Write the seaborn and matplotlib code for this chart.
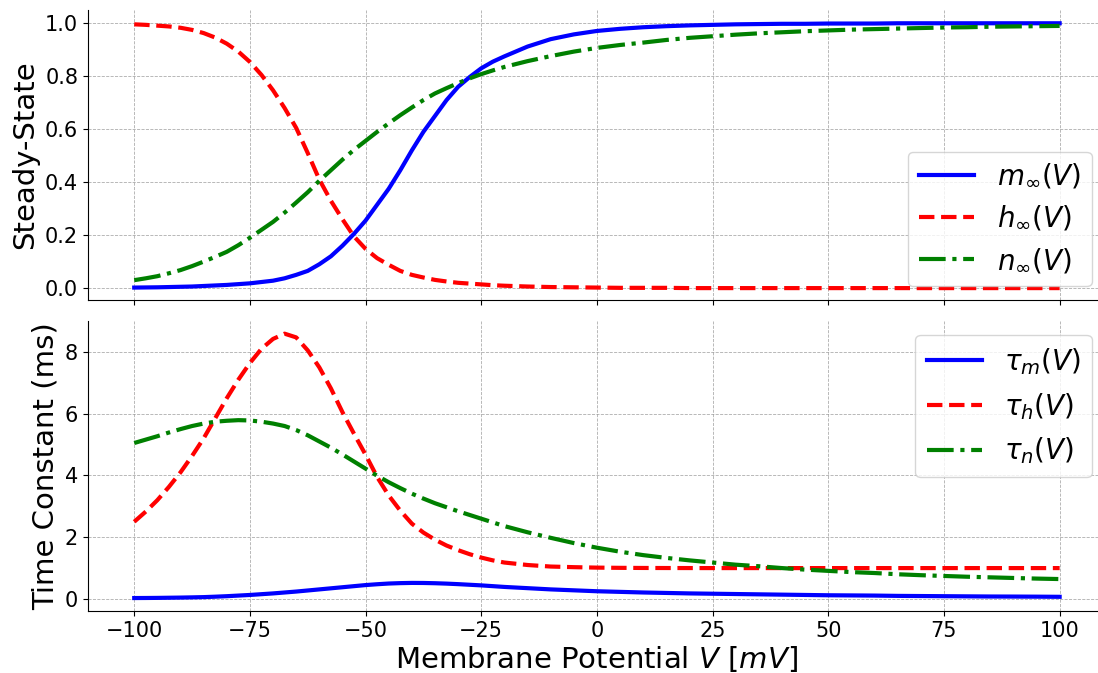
import matplotlib
matplotlib.use("Agg")
import matplotlib.pyplot as plt
import seaborn as sns

V = [-100, -97.5, -95, -92.5, -90, -87.5, -85, -82.5, -80, -77.5, -75, -72.5, -70, -67.5,
     -65, -62.5, -60, -57.5, -55, -52.5, -50, -47.5, -45, -42.5, -40, -37.5, -35, -32.5,
     -30, -27.5, -25, -22.5, -20,
     -15, -10, -5, 0, 5, 10, 15, 20, 25, 30, 35, 40, 45, 50, 55, 60, 65, 70, 75, 80, 85,
     90, 95, 100]

m_inf = [0.002, 0.0025, 0.003, 0.004, 0.005, 0.006, 0.008, 0.01, 0.012, 0.015, 0.018, 0.023,
         0.028, 0.037, 0.05, 0.065, 0.09, 0.12, 0.16, 0.205, 0.255, 0.315, 0.375, 0.445, 0.52,
         0.59, 0.65, 0.71, 0.76, 0.797, 0.83, 0.855, 0.875,
         0.912, 0.94, 0.958, 0.971, 0.979, 0.985, 0.989, 0.992, 0.994, 0.996, 0.997, 0.998,
         0.998, 0.999, 0.999, 0.999, 1.0, 1.0, 1.0, 1.0, 1.0, 1.0, 1.0, 1.0]
h_inf = [0.996, 0.994, 0.991, 0.988, 0.983, 0.975, 0.963, 0.946, 0.923, 0.893, 0.854, 0.805,
         0.747, 0.68, 0.605, 0.51, 0.41, 0.33, 0.26, 0.195, 0.148, 0.113, 0.088, 0.065, 0.05,
         0.04, 0.031, 0.025, 0.02, 0.017, 0.014, 0.011, 0.009,
         0.006, 0.004, 0.003, 0.002, 0.001, 0.001, 0.001, 0.0, 0.0, 0.0, 0.0, 0.0, 0.0, 0.0,
         0.0, 0.0, 0.0, 0.0, 0.0, 0.0, 0.0, 0.0, 0.0, 0.0]
n_inf = [0.03, 0.037, 0.045, 0.056, 0.068, 0.083, 0.10, 0.118, 0.137, 0.162, 0.19, 0.22,
         0.25, 0.285, 0.323, 0.362, 0.405, 0.445, 0.485, 0.522, 0.556, 0.59, 0.622, 0.653,
         0.682, 0.71, 0.735, 0.755, 0.774, 0.792, 0.808, 0.822, 0.835,
         0.857, 0.876, 0.893, 0.907, 0.918, 0.927, 0.937, 0.945, 0.951, 0.957, 0.962, 0.966,
         0.970, 0.973, 0.976, 0.978, 0.980, 0.982, 0.984, 0.985, 0.987, 0.988, 0.989, 0.990]

tau_m = [0.03, 0.032, 0.035, 0.04, 0.045, 0.052, 0.06, 0.074, 0.09, 0.11, 0.13, 0.155, 0.18,
         0.21, 0.24, 0.275, 0.31, 0.345, 0.38, 0.415, 0.45, 0.477, 0.50, 0.513, 0.52, 0.518,
         0.51, 0.497, 0.48, 0.46, 0.44, 0.415, 0.39,
         0.35, 0.31, 0.28, 0.25, 0.23, 0.21, 0.195, 0.18, 0.17, 0.16, 0.15, 0.14, 0.13, 0.12,
         0.115, 0.11, 0.10, 0.095, 0.09, 0.085, 0.08, 0.078, 0.075, 0.07]
tau_h = [2.5, 2.83, 3.2, 3.63, 4.1, 4.63, 5.2, 5.85, 6.5, 7.1, 7.64, 8.1, 8.42, 8.59, 8.47,
         8.05, 7.5, 6.82, 6.05, 5.35, 4.67, 3.95, 3.35, 2.86, 2.44, 2.15, 1.92, 1.73, 1.58,
         1.45, 1.34, 1.25, 1.18,
         1.10, 1.05, 1.03, 1.015, 1.008, 1.004, 1.002, 1.001, 1.0, 1.0, 1.0, 1.0, 1.0, 1.0,
         1.0, 1.0, 1.0, 1.0, 1.0, 1.0, 1.0, 1.0, 1.0, 1.0]
tau_n = [5.05, 5.16, 5.27, 5.39, 5.5, 5.6, 5.68, 5.74, 5.77, 5.79, 5.78, 5.74, 5.68, 5.6,
         5.47, 5.3, 5.1, 4.9, 4.68, 4.45, 4.22, 3.99, 3.78, 3.59, 3.41, 3.25, 3.1, 2.97,
         2.84, 2.72, 2.6, 2.48, 2.36,
         2.16, 1.98, 1.81, 1.66, 1.53, 1.42, 1.33, 1.25, 1.18, 1.11, 1.06, 1.0, 0.95, 0.91,
         0.87, 0.84, 0.80, 0.77, 0.745, 0.72, 0.70, 0.68, 0.66, 0.645]

top_labels = [r'$m_\infty(V)$', r'$h_\infty(V)$', r'$n_\infty(V)$']
bot_labels = [r'$\tau_m(V)$', r'$\tau_h(V)$', r'$\tau_n(V)$']
colors = ['blue', 'red', 'green']
styles = ['-', '--', '-.']
x_ticks = [-100, -75, -50, -25, 0, 25, 50, 75, 100]
top_yticks = [0.0, 0.2, 0.4, 0.6, 0.8, 1.0]
bot_yticks = [0, 2, 4, 6, 8]

plt.rcParams['font.family'] = ['DejaVu Sans']

fig = plt.figure(figsize=(10.98, 6.73), dpi=100)
ax1 = fig.add_axes([0.0801, 0.5542, 0.9271, 0.4309])
ax2 = fig.add_axes([0.0801, 0.0921, 0.9271, 0.4309], sharex=ax1)

for ys, lab, c, ls in zip([m_inf, h_inf, n_inf], top_labels, colors, styles):
    sns.lineplot(x=V, y=ys, ax=ax1, color=c, linestyle=ls, linewidth=3, label=lab)
for ys, lab, c, ls in zip([tau_m, tau_h, tau_n], bot_labels, colors, styles):
    sns.lineplot(x=V, y=ys, ax=ax2, color=c, linestyle=ls, linewidth=3, label=lab)

ax1.set_xlim(-110, 110)
ax1.set_ylim(-0.045, 1.05)
ax2.set_ylim(-0.39, 9.0)
ax1.set_yticks(top_yticks)
ax2.set_yticks(bot_yticks)
ax2.set_xticks(x_ticks)
ax1.tick_params(labelbottom=False)

for ax in (ax1, ax2):
    ax.grid(True, linestyle='--', linewidth=0.6, color='#999999', alpha=0.8)
    ax.tick_params(labelsize=15)
    sns.despine(ax=ax)

ax1.set_ylabel('Steady-State', fontsize=21)
ax2.set_ylabel('Time Constant (ms)', fontsize=21)
ax2.set_xlabel(r'Membrane Potential $V$ [$mV$]', fontsize=21, labelpad=2)

ax1.legend(loc='lower right', fontsize=20)
ax2.legend(loc='upper right', fontsize=20)

fig.savefig('out.png', dpi=100)
